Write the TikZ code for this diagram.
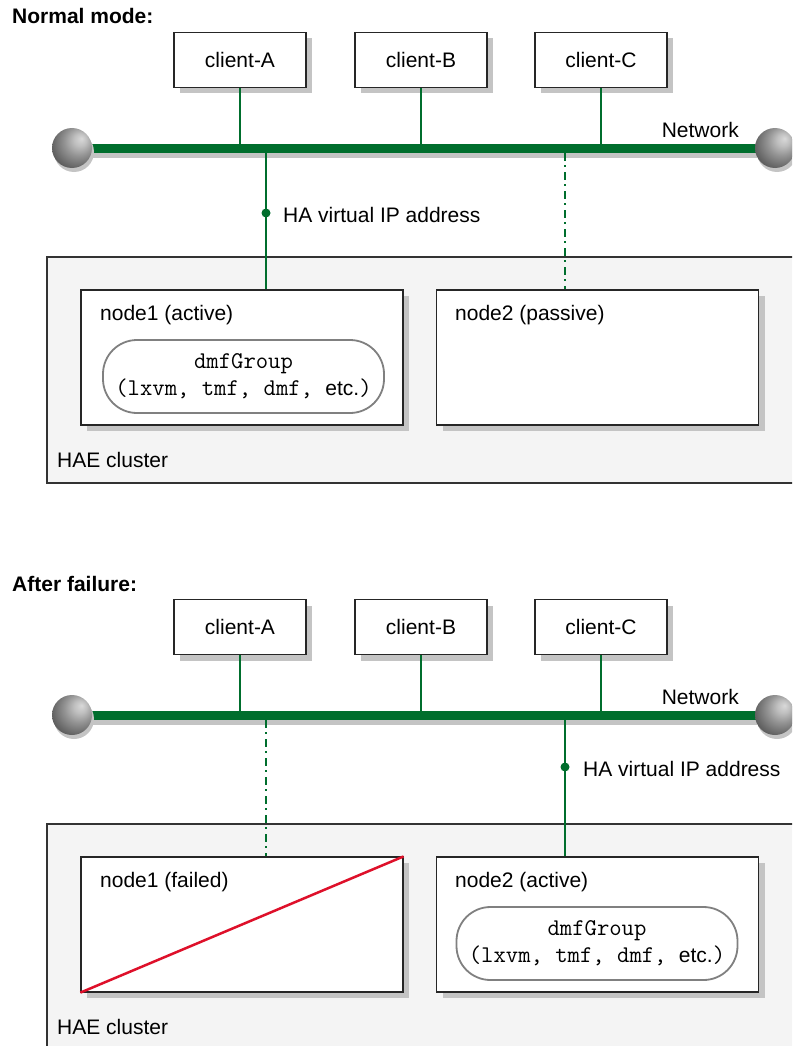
\documentclass[tikz,border=0pt]{standalone}
\usepackage{fontspec}
\setmainfont{Liberation Sans}
\usetikzlibrary{shadows}
\definecolor{netgreen}{RGB}{0,110,45}
\definecolor{clusterfill}{RGB}{244,244,244}
\definecolor{shadowgray}{RGB}{196,196,196}
\definecolor{failred}{RGB}{222,16,42}
\definecolor{pillgray}{RGB}{128,128,128}
\pgfdeclareradialshading{netball}{\pgfpoint{12bp}{12bp}}{%
  color(0bp)=(black!15); color(8bp)=(black!25); color(18bp)=(black!42);
  color(30bp)=(black!60); color(44bp)=(black!78); color(62bp)=(black!85)}
\newcommand\grouptext{\texttt{dmfGroup}\\\texttt{(lxvm, tmf, dmf, }{\fontsize{21}{27}\selectfont etc.}\texttt{)}}
\tikzset{
  txt/.style={font=\fontsize{21}{25}\selectfont, inner sep=0pt},
  title/.style={font=\fontsize{21}{25}\selectfont\bfseries, inner sep=0pt},
  boxshadow/.style={drop shadow={shadow xshift=6pt, shadow yshift=-6pt, fill=shadowgray, opacity=1}},
  client/.style={draw=black!85, line width=1.2pt, fill=white, minimum width=132pt,
    minimum height=55pt, font=\fontsize{21}{25}\selectfont, boxshadow},
  hostbox/.style={draw=black!85, line width=1.2pt, fill=white, minimum width=322pt,
    minimum height=135pt, boxshadow},
  cluster/.style={draw=black!80, line width=1.2pt, fill=clusterfill},
  wire/.style={netgreen, line width=2pt},
  standby/.style={netgreen, line width=2.4pt, dash pattern=on 8pt off 4pt on 2pt off 5pt},
  bus/.style={netgreen, line width=9pt},
  busshadow/.style={shadowgray, line width=6pt},
  ipdot/.style={circle, fill=netgreen, inner sep=0pt, minimum size=9pt},
  pill/.style={draw=pillgray, line width=1.8pt, fill=white, rounded corners=34pt,
    minimum width=281pt, minimum height=73pt, align=center, inner sep=0pt,
    font=\fontsize{24}{27}\selectfont},
  failmark/.style={failred, line width=2.5pt},
}
\begin{document}
\begin{tikzpicture}[x=1pt, y=-1pt]
\useasboundingbox (0,0) rectangle (792,1046);
\clip (0,0) rectangle (792,1046);

% ---------------- Normal mode ----------------
\node[title, anchor=base west] (titleA) at (12,24) {Normal mode:};

\draw[cluster] (47,257) rectangle (812,483);
\node[txt, anchor=base west] (hae1) at (57,467) {HAE cluster};

% network bus with its end caps
\coordinate (busL1) at (88,148);
\coordinate (busR1) at (757,148);
\draw[busshadow] ([yshift=-7pt]busL1) -- ([yshift=-7pt]busR1);
\draw[bus] (busL1) -- (busR1);
\fill[shadowgray] (74,152) circle (20);
\shade[shading=netball] (72,148) circle (20);
\fill[shadowgray] (777,152) circle (20);
\shade[shading=netball] (775,148) circle (20);
\node[txt, anchor=base east] (net1) at (739,137) {Network};

% clients
\node[client] (cA1) at (240,60) {client-A};
\node[client] (cB1) at (421,60) {client-B};
\node[client] (cC1) at (601,60) {client-C};
\foreach \c in {cA1,cB1,cC1}
  \draw[wire] (\c.south) -- (\c.south |- busL1);

% cluster members
\node[hostbox] (na1) at (242,357.5) {};
\node[hostbox] (nb1) at (597.5,357.5) {};
\node[txt, anchor=base west] at (100,320) {node1 (active)};
\node[txt, anchor=base west] at (455,320) {node2 (passive)};
\node[pill] (grp1) at (243.5,376.5) {\grouptext};

% virtual IP on the active node, standby link to the passive one
\coordinate (ipA1) at (266,148);
\draw[wire] (ipA1) -- (ipA1 |- na1.north);
\node[ipdot] (dotA1) at (266,213) {};
\node[txt, anchor=base west] (ipl1) at (283,222) {HA virtual IP address};
\coordinate (sbB1) at (565,153);
\draw[standby] (sbB1) -- (sbB1 |- nb1.north);

% ---------------- After failure ----------------
\node[title, anchor=base west] (titleB) at (12,591) {After failure:};

\draw[cluster] (47,824) rectangle (812,1060);
\node[txt, anchor=base west] (hae2) at (57,1034) {HAE cluster};

\coordinate (busL2) at (88,715);
\coordinate (busR2) at (757,715);
\draw[busshadow] ([yshift=-7pt]busL2) -- ([yshift=-7pt]busR2);
\draw[bus] (busL2) -- (busR2);
\fill[shadowgray] (74,719) circle (20);
\shade[shading=netball] (72,715) circle (20);
\fill[shadowgray] (777,719) circle (20);
\shade[shading=netball] (775,715) circle (20);
\node[txt, anchor=base east] (net2) at (739,704) {Network};

\node[client] (cA2) at (240,627) {client-A};
\node[client] (cB2) at (421,627) {client-B};
\node[client] (cC2) at (601,627) {client-C};
\foreach \c in {cA2,cB2,cC2}
  \draw[wire] (\c.south) -- (\c.south |- busL2);

\node[hostbox] (na2) at (242,924.5) {};
\node[hostbox] (nb2) at (597.5,924.5) {};
\node[txt, anchor=base west] at (100,887) {node1 (failed)};
\node[txt, anchor=base west] at (455,887) {node2 (active)};
\draw[failmark] (na2.south west) -- (na2.north east);
\node[pill] (grp2) at (597,943.5) {\grouptext};

\coordinate (sbA2) at (266,720);
\draw[standby] (sbA2) -- (sbA2 |- na2.north);
\coordinate (ipB2) at (565,715);
\draw[wire] (ipB2) -- (ipB2 |- nb2.north);
\node[ipdot] (dotB2) at (565,767) {};
\node[txt, anchor=base west] (ipl2) at (583,776) {HA virtual IP address};
\end{tikzpicture}
\end{document}
